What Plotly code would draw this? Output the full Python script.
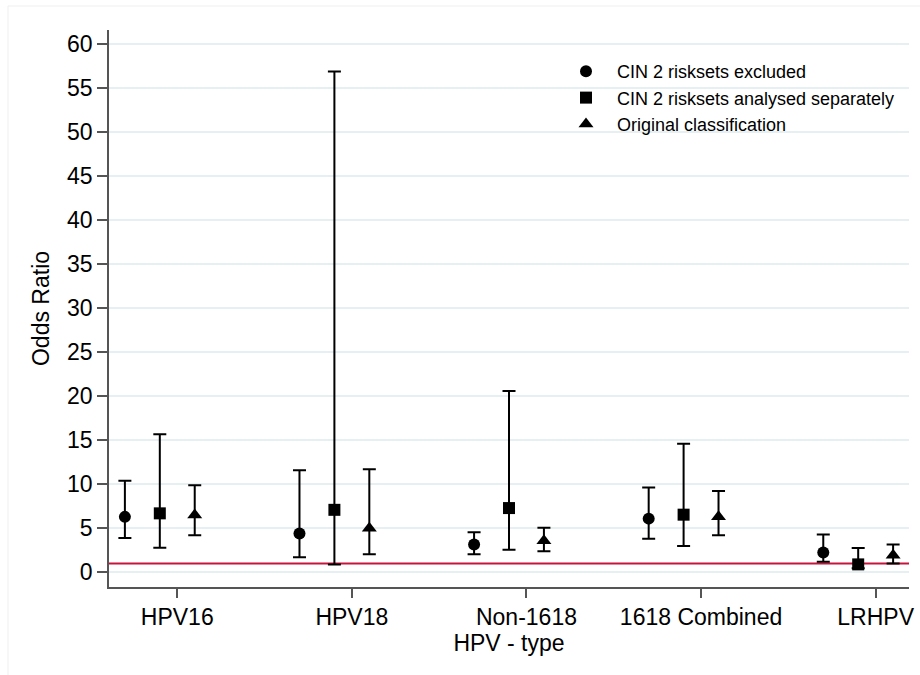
import plotly.graph_objects as go

# HPV types on the x axis
categories = ["HPV16", "HPV18", "Non-1618", "1618 Combined", "LRHPV"]
cat_pos = [1, 2, 3, 4, 5]

# Odds ratios with 95% confidence limits for each classification
excl_or = [6.3, 4.4, 3.15, 6.1, 2.25]
excl_lo = [3.9, 1.7, 2.05, 3.8, 1.2]
excl_hi = [10.4, 11.6, 4.55, 9.65, 4.3]

sep_or = [6.7, 7.1, 7.3, 6.55, 0.9]
sep_lo = [2.8, 0.9, 2.55, 3.0, 0.45]
sep_hi = [15.7, 56.9, 20.6, 14.6, 2.75]

orig_or = [6.5, 5.0, 3.6, 6.3, 1.95]
orig_lo = [4.2, 2.05, 2.4, 4.2, 1.0]
orig_hi = [9.9, 11.7, 5.05, 9.25, 3.15]

series = [
    ("CIN 2 risksets excluded", excl_or, excl_lo, excl_hi, "circle", 12, -0.3),
    ("CIN 2 risksets analysed separately", sep_or, sep_lo, sep_hi, "square", 12, -0.1),
    ("Original classification", orig_or, orig_lo, orig_hi, "triangle-up", 13, 0.1),
]

y_ticks = list(range(0, 61, 5))
reference_or = 1

FONT = "Arial, 'Liberation Sans', sans-serif"

fig = go.Figure()
for name, ors, lo, hi, sym, size, off in series:
    fig.add_trace(go.Scatter(
        x=[p + off for p in cat_pos],
        y=ors,
        mode="markers",
        name=name,
        marker=dict(symbol=sym, size=size, color="black", line=dict(width=0)),
        error_y=dict(
            type="data",
            symmetric=False,
            array=[h - v for h, v in zip(hi, ors)],
            arrayminus=[v - l for v, l in zip(ors, lo)],
            color="black",
            thickness=2,
            width=6.5,
        ),
    ))

# reference line at OR = 1
fig.add_shape(type="line", xref="paper", x0=0, x1=1, yref="y",
              y0=reference_or, y1=reference_or,
              line=dict(color="#c8143c", width=2), layer="below")

# faint outer frame of the graph region
L, T, W, H = 109, 30, 800, 556.7
def px_x(p):
    return (p - L) / W
def px_y(p):
    return (T + H - p) / H
fig.add_shape(type="rect", xref="paper", yref="paper",
              x0=px_x(8), x1=px_x(930), y0=px_y(6), y1=px_y(690),
              line=dict(color="#efefef", width=1), layer="below")

fig.update_layout(
    width=920, height=675,
    margin=dict(l=109, r=11, t=30, b=88.3, autoexpand=False),
    paper_bgcolor="white", plot_bgcolor="white",
    font=dict(family=FONT, color="black"),
    showlegend=True,
    legend=dict(
        x=px_x(555), y=px_y(53), xanchor="left", yanchor="top",
        bgcolor="rgba(0,0,0,0)", borderwidth=0,
        font=dict(size=18, family=FONT, color="black"),
        itemwidth=52,
    ),
)

fig.update_xaxes(
    range=[0.609, 5.191],
    tickmode="array", tickvals=cat_pos, ticktext=categories,
    ticks="outside", ticklen=9, tickwidth=1.5, tickcolor="#555",
    showline=True, linecolor="#555", linewidth=1.5,
    showgrid=False, zeroline=False,
    tickfont=dict(size=23, family=FONT),
    title=dict(text="HPV - type", font=dict(size=23, family=FONT), standoff=0),
)
fig.update_yaxes(
    range=[-1.67, 61.63],
    tickmode="array", tickvals=y_ticks,
    ticks="outside", ticklen=10, tickwidth=1.5, tickcolor="#555",
    showline=True, linecolor="#555", linewidth=1.5,
    showgrid=True, gridcolor="#e6eff2", gridwidth=2,
    zeroline=False,
    tickfont=dict(size=23, family=FONT),
    title=dict(text="Odds Ratio", font=dict(size=23, family=FONT), standoff=11),
)

fig.write_html("out.html")
